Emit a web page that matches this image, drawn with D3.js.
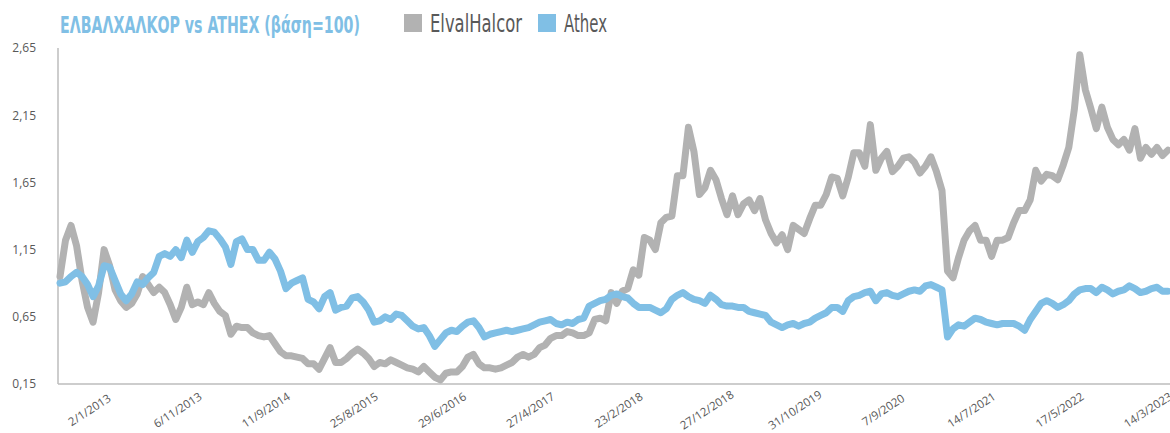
<!DOCTYPE html>
<html>
<head>
<meta charset="utf-8">
<script src="https://cdn.jsdelivr.net/npm/d3@7"></script>
<style>
  body { margin: 0; background: #fff; }
  svg { display: block; }
</style>
</head>
<body>
<div id="chart"></div>
<script>
// tick labels under the axis, one every 16 samples
var tickLabels = ['2/1/2013', '6/11/2013', '11/9/2014', '25/8/2015', '29/6/2016', '27/4/2017',
  '23/2/2018', '27/12/2018', '31/10/2019', '7/9/2020', '14/7/2021', '17/5/2022', '14/3/2023'];
var samplesPerLabel = 16;
var yTicks = [0.15, 0.65, 1.15, 1.65, 2.15, 2.65];
var seriesNames = ['ElvalHalcor', 'Athex'];
var seriesColors = ['#b2b2b2', '#80bfe5'];

// ElvalHalcor, base = 1
var elvalhalcor = [
  0.95, 1.22, 1.33, 1.18, 0.92, 0.72, 0.61, 0.83, 1.15, 1.03,
  0.85, 0.77, 0.72, 0.75, 0.82, 0.95, 0.89, 0.83, 0.87, 0.83,
  0.74, 0.63, 0.72, 0.87, 0.74, 0.76, 0.74, 0.83, 0.75, 0.69,
  0.66, 0.52, 0.58, 0.57, 0.57, 0.53, 0.51, 0.50, 0.51, 0.45,
  0.39, 0.36, 0.36, 0.35, 0.34, 0.30, 0.30, 0.26, 0.34, 0.42,
  0.31, 0.31, 0.34, 0.38, 0.41, 0.38, 0.34, 0.28, 0.31, 0.30,
  0.33, 0.31, 0.29, 0.27, 0.26, 0.24, 0.28, 0.24, 0.20, 0.18,
  0.23, 0.24, 0.24, 0.28, 0.35, 0.37, 0.30, 0.27, 0.27, 0.26,
  0.27, 0.29, 0.31, 0.35, 0.37, 0.35, 0.37, 0.42, 0.44, 0.49,
  0.51, 0.51, 0.54, 0.53, 0.51, 0.51, 0.53, 0.63, 0.64, 0.62,
  0.83, 0.75, 0.84, 0.86, 1.00, 0.96, 1.24, 1.22, 1.15, 1.35,
  1.39, 1.40, 1.70, 1.70, 2.06, 1.88, 1.56, 1.61, 1.74, 1.67,
  1.53, 1.41, 1.55, 1.41, 1.49, 1.52, 1.44, 1.53, 1.37, 1.27,
  1.20, 1.26, 1.15, 1.33, 1.30, 1.27, 1.38, 1.48, 1.48, 1.56,
  1.69, 1.68, 1.55, 1.69, 1.87, 1.87, 1.77, 2.08, 1.74, 1.83,
  1.88, 1.73, 1.77, 1.83, 1.84, 1.80, 1.72, 1.77, 1.84, 1.73,
  1.59, 0.99, 0.94, 1.09, 1.22, 1.29, 1.33, 1.22, 1.22, 1.10,
  1.22, 1.22, 1.24, 1.35, 1.44, 1.44, 1.52, 1.74, 1.66, 1.71,
  1.70, 1.67, 1.78, 1.91, 2.19, 2.60, 2.34, 2.20, 2.05, 2.21,
  2.06, 1.97, 1.93, 1.97, 1.89, 2.05, 1.83, 1.91, 1.86, 1.91,
  1.85, 1.89
];

// Athex general index, base = 1
var athex = [
  0.90, 0.91, 0.95, 0.98, 0.95, 0.89, 0.80, 0.88, 1.03, 1.02,
  0.92, 0.82, 0.77, 0.82, 0.91, 0.89, 0.94, 0.98, 1.10, 1.12,
  1.10, 1.15, 1.09, 1.22, 1.13, 1.21, 1.24, 1.29, 1.28, 1.23,
  1.17, 1.04, 1.21, 1.23, 1.15, 1.15, 1.07, 1.07, 1.13, 1.08,
  0.99, 0.86, 0.90, 0.92, 0.94, 0.78, 0.76, 0.71, 0.80, 0.83,
  0.70, 0.72, 0.73, 0.79, 0.80, 0.76, 0.70, 0.61, 0.62, 0.65,
  0.63, 0.67, 0.66, 0.62, 0.58, 0.56, 0.57, 0.51, 0.43, 0.48,
  0.53, 0.55, 0.54, 0.58, 0.61, 0.62, 0.57, 0.50, 0.52, 0.53,
  0.54, 0.55, 0.54, 0.55, 0.56, 0.57, 0.59, 0.61, 0.62, 0.63,
  0.60, 0.59, 0.61, 0.60, 0.63, 0.64, 0.73, 0.75, 0.77, 0.78,
  0.81, 0.82, 0.80, 0.79, 0.75, 0.72, 0.72, 0.72, 0.70, 0.68,
  0.71, 0.78, 0.81, 0.83, 0.80, 0.78, 0.77, 0.75, 0.81, 0.78,
  0.74, 0.73, 0.73, 0.72, 0.72, 0.69, 0.68, 0.67, 0.66, 0.61,
  0.59, 0.57, 0.59, 0.60, 0.58, 0.60, 0.61, 0.64, 0.66, 0.68,
  0.72, 0.72, 0.69, 0.77, 0.80, 0.81, 0.83, 0.84, 0.77, 0.82,
  0.83, 0.81, 0.80, 0.82, 0.84, 0.85, 0.84, 0.88, 0.89, 0.87,
  0.85, 0.50, 0.56, 0.59, 0.58, 0.61, 0.64, 0.63, 0.61, 0.60,
  0.59, 0.60, 0.60, 0.60, 0.58, 0.55, 0.63, 0.69, 0.75, 0.77,
  0.75, 0.72, 0.74, 0.77, 0.82, 0.85, 0.86, 0.86, 0.83, 0.87,
  0.85, 0.82, 0.84, 0.85, 0.88, 0.86, 0.83, 0.84, 0.86, 0.87,
  0.84, 0.84
];

var width = 1170, height = 433;
var axisColor = '#bcbcbc', textColor = '#595959';
var narrow = "'Liberation Sans Narrow', 'DejaVu Sans Condensed', 'Roboto Condensed', sans-serif";

var svg = d3.select('#chart')
    .append('svg')
    .attr('width', width)
    .attr('height', height);

var x = d3.scaleLinear().domain([0, elvalhalcor.length - 1]).range([60, 1168]);
var y = d3.scaleLinear().domain([0.15, 2.65]).range([384, 48]);

var locale = d3.formatLocale({decimal: ',', thousands: '.', grouping: [3], currency: ['', '€']});
var fmt = locale.format('.2f');

// squeeze a text horizontally to a given width, keeping its height
function fitWidth(sel, x0, y0, w) {
    sel.attr('x', 0).attr('y', 0);
    var len = sel.node().getComputedTextLength();
    sel.attr('transform', 'translate(' + x0 + ',' + y0 + ') scale(' + (w / len) + ',1)');
}

// y axis labels
var yAxis = svg.append('g')
    .attr('transform', 'translate(58,0)')
    .call(d3.axisLeft(y).tickValues(yTicks).tickFormat(fmt).tickSize(0).tickPadding(22));
yAxis.select('.domain').remove();
yAxis.selectAll('text')
    .style('font-family', "'Open Sans', sans-serif")
    .style('font-size', '12px')
    .attr('fill', textColor);

// x axis labels, rotated
var xAxis = svg.append('g')
    .attr('transform', 'translate(0,' + y(0.15) + ')')
    .call(d3.axisBottom(x)
        .tickValues(tickLabels.map(function (d, i) { return i * samplesPerLabel; }))
        .tickFormat(function (d, i) { return tickLabels[i]; })
        .tickSize(0));
xAxis.select('.domain').remove();
xAxis.selectAll('text')
    .attr('x', 0).attr('y', 0).attr('dy', '0.35em')
    .attr('transform', 'translate(29,26) rotate(-33)')
    .style('text-anchor', 'middle')
    .style('font-family', "'Open Sans', sans-serif")
    .style('font-size', '11.5px')
    .attr('fill', textColor);

// axis lines
svg.append('line')
    .attr('x1', 58).attr('x2', 58)
    .attr('y1', y(2.65)).attr('y2', y(0.15))
    .style('stroke', axisColor).style('stroke-width', 1.5);
svg.append('line')
    .attr('x1', 58).attr('x2', width)
    .attr('y1', y(0.15)).attr('y2', y(0.15))
    .style('stroke', axisColor).style('stroke-width', 1.5);

// series, gray first so Athex sits on top
var line = d3.line()
    .x(function (d, i) { return x(i); })
    .y(function (d) { return y(d); });

[elvalhalcor, athex].forEach(function (s, k) {
    svg.append('path')
        .datum(s)
        .attr('d', line)
        .style('fill', 'none')
        .style('stroke', seriesColors[k])
        .style('stroke-width', 7)
        .style('stroke-linejoin', 'round')
        .style('stroke-linecap', 'round');
});

// title
var title = svg.append('text')
    .style('font-family', narrow)
    .style('font-stretch', 'condensed')
    .style('font-weight', 'bold')
    .style('font-size', '23px')
    .attr('fill', '#80bfe5')
    .text('ΕΛΒΑΛΧΑΛΚΟΡ vs ATHEX (βάση=100)');
fitWidth(title, 60, 33, 300);

// legend
var legendX = [404, 538];
var legendW = [92, 43];
seriesNames.forEach(function (name, i) {
    svg.append('rect')
        .attr('x', legendX[i]).attr('y', 14)
        .attr('width', 18).attr('height', 18)
        .attr('fill', seriesColors[i]);
    var t = svg.append('text')
        .style('font-family', narrow)
        .style('font-stretch', 'condensed')
        .style('font-size', '25px')
        .attr('fill', textColor)
        .text(name);
    fitWidth(t, legendX[i] + 26, 32, legendW[i]);
});
</script>
</body>
</html>
